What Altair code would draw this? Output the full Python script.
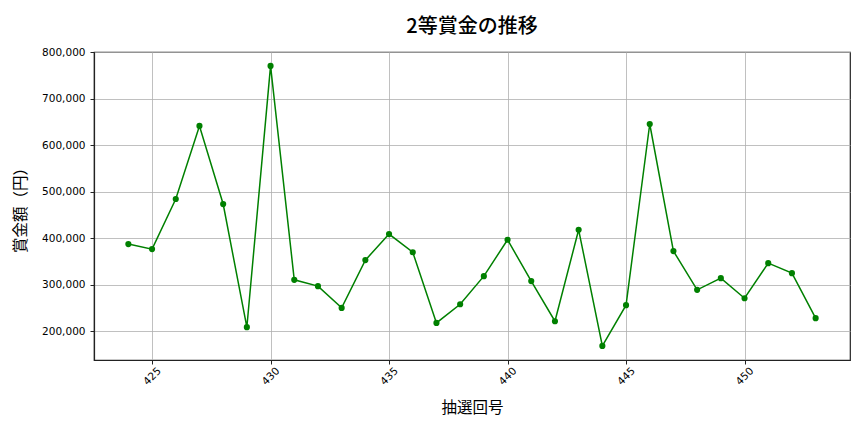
import altair as alt
import pandas as pd

draws = list(range(424, 454))
prizes = [387500, 376700, 484500, 641800, 473700, 208600, 771000, 310600, 297000, 250200,
          353000, 409000, 370000, 217900, 258000, 318500, 396800, 307800, 221500, 418300,
          168300, 256000, 646000, 372400, 289000, 314200, 271000, 346500, 325000, 228000]
x_ticks = [425, 430, 435, 440, 445, 450]
y_ticks = [200000, 300000, 400000, 500000, 600000, 700000, 800000]

df = pd.DataFrame({"draw": draws, "prize": prizes})

FONT = "Noto Sans CJK JP"
LABEL_FONT = "DejaVu Sans"

base = alt.Chart(df).encode(
    x=alt.X("draw:Q", scale=alt.Scale(domain=[422.55, 454.45], nice=False, zero=False),
            axis=alt.Axis(values=x_ticks, title="抽選回号", labelAngle=-45, labelAlign="center",
                          labelBaseline="middle", labelPadding=12, format="d",
                          titleFontSize=15.5, titleFontWeight="normal", titlePadding=14)),
    y=alt.Y("prize:Q", scale=alt.Scale(domain=[138000, 801000], nice=False, zero=False),
            axis=alt.Axis(values=y_ticks, title="賞金額（円）", format=",d", labelPadding=5,
                          titleFontSize=15.5, titleFontWeight="normal", titlePadding=13)),
)

line = base.mark_line(color="#008000", strokeWidth=1.5)
pts = base.mark_circle(color="#008000", size=38, opacity=1)

chart = (line + pts).properties(
    width=756, height=308,
    title=alt.TitleParams("2等賞金の推移", fontSize=20, fontWeight=500, anchor="middle",
                          offset=10, font=FONT, color="black"),
    autosize=alt.AutoSizeParams(type="none"),
    padding={"left": 86, "top": 44, "right": 6, "bottom": 56},
).configure(font=FONT).configure_view(stroke="#222222", strokeWidth=1.2).configure_axis(
    labelFont=LABEL_FONT, titleFont=FONT, labelFontSize=10.5, labelColor="black", titleColor="black",
    gridColor="#b0b0b0", gridOpacity=1, gridWidth=0.8, domainColor="#222222", domainWidth=1.2,
    tickColor="#222222", tickSize=4, tickWidth=1,
)

chart.save("out.html", embed_options={"renderer": "svg", "actions": False})
